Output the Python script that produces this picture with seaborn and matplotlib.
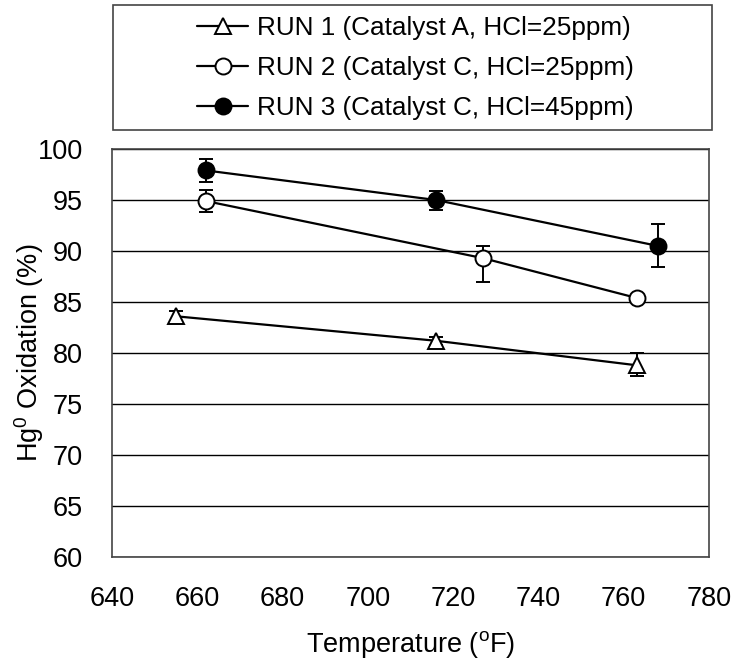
import matplotlib
matplotlib.use("Agg")
import matplotlib.pyplot as plt
from matplotlib.patches import Rectangle
import seaborn as sns
import pandas as pd

run1_temp = [655, 716, 763]
run1_ox = [83.6, 81.2, 78.8]
run1_err_lo = [0.5, 0.4, 1.1]
run1_err_hi = [0.5, 0.4, 1.2]

run2_temp = [662, 727, 763]
run2_ox = [94.9, 89.3, 85.4]
run2_err_lo = [1.1, 2.3, 0.0]
run2_err_hi = [1.1, 1.2, 0.0]

run3_temp = [662, 716, 768]
run3_ox = [97.9, 95.0, 90.5]
run3_err_lo = [1.15, 1.0, 2.1]
run3_err_hi = [1.15, 0.9, 2.1]

labels = ["RUN 1 (Catalyst A, HCl=25ppm)",
          "RUN 2 (Catalyst C, HCl=25ppm)",
          "RUN 3 (Catalyst C, HCl=45ppm)"]
x_ticks = [640, 660, 680, 700, 720, 740, 760, 780]
y_ticks = [60, 65, 70, 75, 80, 85, 90, 95, 100]

sns.set_theme(style="white")
plt.rcParams["font.family"] = ["Liberation Sans", "DejaVu Sans"]
plt.rcParams["mathtext.fontset"] = "custom"
plt.rcParams["mathtext.rm"] = "Liberation Sans"
plt.rcParams["mathtext.it"] = "Liberation Sans"
plt.rcParams["text.color"] = "black"

fs = 19.5

fig = plt.figure(figsize=(7.33, 6.62), dpi=100)
ax = fig.add_axes([0.1528, 0.1586, 0.8145, 0.6163])

runs = [
    (run1_temp, run1_ox, run1_err_lo, run1_err_hi, "^", "white"),
    (run2_temp, run2_ox, run2_err_lo, run2_err_hi, "o", "white"),
    (run3_temp, run3_ox, run3_err_lo, run3_err_hi, "o", "black"),
]

for (t, ox, lo, hi, mk, fc), lab in zip(runs, labels):
    df = pd.DataFrame({"temp": t, "ox": ox})
    ax.errorbar(df["temp"], df["ox"], yerr=[lo, hi], fmt="none", ecolor="black",
                elinewidth=1.4, capsize=5, capthick=1.4, zorder=3)
    sns.lineplot(data=df, x="temp", y="ox", ax=ax, color="black", linewidth=1.6,
                 marker=mk, markersize=11.5, markerfacecolor=fc,
                 markeredgecolor="black", markeredgewidth=1.4, label=lab, zorder=4)

ax.set_xlim(640, 780)
ax.set_ylim(60, 100)
ax.set_xticks(x_ticks)
ax.set_yticks(y_ticks)
ax.yaxis.grid(True, color="black", linewidth=1.0)
ax.xaxis.grid(False)
ax.set_axisbelow(True)
for s in ax.spines.values():
    s.set_color("#444444")
    s.set_linewidth(1.2)
ax.tick_params(axis="both", length=0, labelsize=fs, colors="black", pad=21)
ax.set_xlabel("Temperature ($\\mathregular{^o}$F)", fontsize=fs, color="black", labelpad=12)
ax.set_ylabel("Hg$\\mathregular{^0}$ Oxidation (%)", fontsize=fs, color="black", labelpad=-6)

handles, labs = ax.get_legend_handles_labels()
ax.legend(handles, labs, loc="center left", bbox_to_anchor=(184 / 733, 1 - 68 / 662),
          bbox_transform=fig.transFigure, frameon=False, fontsize=18.8,
          labelcolor="black", handlelength=1.95, handletextpad=0.35,
          labelspacing=0.6, borderpad=0)

fig.patches.append(Rectangle((113 / 733, 1 - 130 / 662), 599 / 733, 125 / 662,
                             transform=fig.transFigure, fill=False,
                             edgecolor="#444444", linewidth=1.2))

fig.savefig("out.png", dpi=100)
